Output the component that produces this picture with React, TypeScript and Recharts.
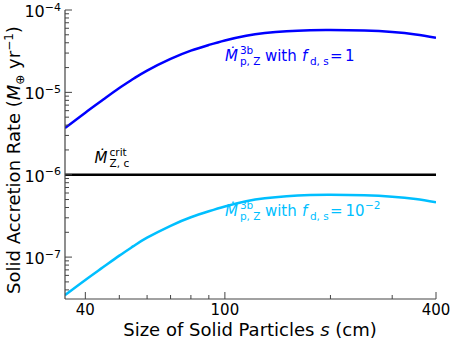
import React from "react";
import {
  ComposedChart,
  Line,
  XAxis,
  YAxis,
  ReferenceLine,
  ReferenceDot,
} from "recharts";

// particle size s (cm)
const sizes = [35, 40, 45, 50, 55, 60, 70, 80, 90, 100, 115, 130, 150, 175, 200, 250, 300, 350, 400];
// solid accretion rate with f_d,s = 1 (M_earth / yr)
const rateFds1 = [
  3.69e-6, 5.67e-6, 8.18e-6, 1.129e-5, 1.472e-5, 1.841e-5, 2.547e-5, 3.212e-5,
  3.767e-5, 4.273e-5, 4.874e-5, 5.255e-5, 5.527e-5, 5.683e-5, 5.715e-5, 5.62e-5,
  5.404e-5, 5.054e-5, 4.607e-5,
];
// same with f_d,s = 1e-2
const rateFds001 = [
  3.45e-8, 5.27e-8, 7.56e-8, 1.042e-7, 1.368e-7, 1.72e-7, 2.399e-7, 3.043e-7,
  3.598e-7, 4.116e-7, 4.759e-7, 5.177e-7, 5.475e-7, 5.661e-7, 5.709e-7, 5.629e-7,
  5.414e-7, 5.063e-7, 4.616e-7,
];
const critRate = 1e-6;

const xTicks = [40, 50, 60, 70, 80, 90, 100, 200, 300, 400];
const xLabeled = [40, 100, 400];
const yTicks = [
  4e-8, 5e-8, 6e-8, 7e-8, 8e-8, 9e-8,
  1e-7, 2e-7, 3e-7, 4e-7, 5e-7, 6e-7, 7e-7, 8e-7, 9e-7,
  1e-6, 2e-6, 3e-6, 4e-6, 5e-6, 6e-6, 7e-6, 8e-6, 9e-6,
  1e-5, 2e-5, 3e-5, 4e-5, 5e-5, 6e-5, 7e-5, 8e-5, 9e-5,
  1e-4,
];
const yLabeled: Record<string, string> = {
  "1e-7": "−7",
  "0.000001": "−6",
  "0.00001": "−5",
  "0.0001": "−4",
};

const data = sizes.map((s, i) => ({ s, hi: rateFds1[i], lo: rateFds001[i] }));

const FONT = "DejaVu Sans, sans-serif";
const AXIS = "#444";
const BLUE = "#0000ff";
const CYAN = "#00bfff";

const isMajorY = (v: number) => String(v) in yLabeled;

// tick drawn inward from the axis line, with label outside
const BottomTick = (props: any) => {
  const { x, y, payload } = props;
  const major = xLabeled.includes(payload.value);
  return (
    <g>
      <line x1={x} y1={y} x2={x} y2={y - (major ? 7 : 4)} stroke={AXIS} strokeWidth={1} />
      {major && (
        <text x={x} y={y + 16} textAnchor="middle" fontSize={15} fontFamily={FONT} fill="#000">
          {payload.value}
        </text>
      )}
    </g>
  );
};

const TopTick = (props: any) => {
  const { x, y, payload } = props;
  const major = xLabeled.includes(payload.value);
  return <line x1={x} y1={y} x2={x} y2={y + (major ? 7 : 4)} stroke={AXIS} strokeWidth={1} />;
};

const LeftTick = (props: any) => {
  const { x, y, payload } = props;
  const major = isMajorY(payload.value);
  return (
    <g>
      <line x1={x} y1={y} x2={x + (major ? 7 : 4)} y2={y} stroke={AXIS} strokeWidth={1} />
      {major && (
        <text x={x - 4} y={y + 7} textAnchor="end" fontFamily={FONT} fill="#000">
          <tspan fontSize={16}>10</tspan>
          <tspan fontSize={11} dy={-6.5}>{yLabeled[String(payload.value)]}</tspan>
        </text>
      )}
    </g>
  );
};

const RightTick = (props: any) => {
  const { x, y, payload } = props;
  const major = isMajorY(payload.value);
  return <line x1={x} y1={y} x2={x - (major ? 7 : 4)} y2={y} stroke={AXIS} strokeWidth={1} />;
};

// Ṁ with stacked super/subscripts, optionally followed by "with f_d,s = ..."
const RateLabel = ({ cx, cy, color, sup, sub, tail }: any) => (
  <g fontFamily={FONT} fill={color}>
    <text x={cx} y={cy} fontSize={15} fontStyle="italic">Ṁ</text>
    <text x={cx + 15} y={cy - 7} fontSize={10.5}>{sup}</text>
    <text x={cx + 15} y={cy + 4} fontSize={10.5}>{sub}</text>
    {tail}
  </g>
);

const withTail = (cx: number, cy: number, exp?: string) => (
  <>
    <text x={cx + 40} y={cy} fontSize={15}>with</text>
    <text x={cx + 77} y={cy} fontSize={15} fontStyle="italic">f</text>
    <text x={cx + 85} y={cy + 4} fontSize={10.5}>d, s</text>
    <text x={cx + 105} y={cy} fontSize={15}>=</text>
    <text x={cx + (exp ? 120.5 : 120)} y={cy} fontSize={15}>{exp ? "10" : "1"}</text>
    {exp && (
      <text x={cx + 140} y={cy - 7} fontSize={10.5}>{exp}</text>
    )}
  </>
);

export default function App() {
  return (
    <div style={{ position: "absolute", left: 0, top: 0, width: 452, height: 339, background: "#fff" }}>
      <ComposedChart
        width={452}
        height={339}
        data={data}
        margin={{ top: 10, right: 16, bottom: 0, left: 0 }}
      >
        <XAxis
          dataKey="s"
          type="number"
          scale="log"
          domain={[35, 400]}
          allowDataOverflow
          ticks={xTicks}
          interval={0}
          height={40}
          tickSize={0}
          tickMargin={0}
          tickLine={false}
          axisLine={{ stroke: AXIS, strokeWidth: 1.2 }}
          tick={<BottomTick />}
        />
        <XAxis
          xAxisId="top"
          orientation="top"
          dataKey="s"
          type="number"
          scale="log"
          domain={[35, 400]}
          allowDataOverflow
          ticks={xTicks}
          interval={0}
          height={0}
          tickSize={0}
          tickMargin={0}
          tickLine={false}
          axisLine={{ stroke: AXIS, strokeWidth: 1.2 }}
          tick={<TopTick />}
        />
        <YAxis
          type="number"
          scale="log"
          domain={[3.1e-8, 1e-4]}
          allowDataOverflow
          ticks={yTicks}
          interval={0}
          width={65}
          tickSize={0}
          tickMargin={0}
          tickLine={false}
          axisLine={{ stroke: AXIS, strokeWidth: 1.2 }}
          tick={<LeftTick />}
        />
        <YAxis
          yAxisId="right"
          orientation="right"
          type="number"
          scale="log"
          domain={[3.1e-8, 1e-4]}
          allowDataOverflow
          ticks={yTicks}
          interval={0}
          width={0}
          tickSize={0}
          tickMargin={0}
          tickLine={false}
          axisLine={{ stroke: AXIS, strokeWidth: 1.2 }}
          tick={<RightTick />}
        />
        <ReferenceLine y={critRate} stroke="#000" strokeWidth={2.5} />
        <Line type="natural" dataKey="hi" stroke={BLUE} strokeWidth={2.5} dot={false} isAnimationActive={false} />
        <Line type="natural" dataKey="lo" stroke={CYAN} strokeWidth={2.5} dot={false} isAnimationActive={false} />
        <ReferenceDot
          x={100}
          y={2.4e-5}
          r={0}
          shape={(p: any) => (
            <RateLabel cx={p.cx} cy={p.cy} color={BLUE} sup="3b" sub="p, Z" tail={withTail(p.cx, p.cy)} />
          )}
        />
        <ReferenceDot
          x={100}
          y={3.15e-7}
          r={0}
          shape={(p: any) => (
            <RateLabel cx={p.cx} cy={p.cy} color={CYAN} sup="3b" sub="p, Z" tail={withTail(p.cx, p.cy, "−2")} />
          )}
        />
        <ReferenceDot
          x={42.5}
          y={1.39e-6}
          r={0}
          shape={(p: any) => <RateLabel cx={p.cx} cy={p.cy} color="#000" sup="crit" sub="Z, c" />}
        />
        <text x={250} y={336} textAnchor="middle" fontSize={18} fontFamily={FONT} fill="#000">
          Size of Solid Particles <tspan fontStyle="italic">s</tspan> (cm)
        </text>
        <text
          transform="translate(20,160) rotate(-90)"
          textAnchor="middle"
          fontSize={18}
          fontFamily={FONT}
          fill="#000"
        >
          Solid Accretion Rate (<tspan fontStyle="italic">M</tspan>
          <tspan fontSize={12} dy={4}>⊕</tspan>
          <tspan dy={-4}> yr</tspan>
          <tspan fontSize={12} dy={-7}>−1</tspan>
          <tspan dy={7}>)</tspan>
        </text>
      </ComposedChart>
    </div>
  );
}
